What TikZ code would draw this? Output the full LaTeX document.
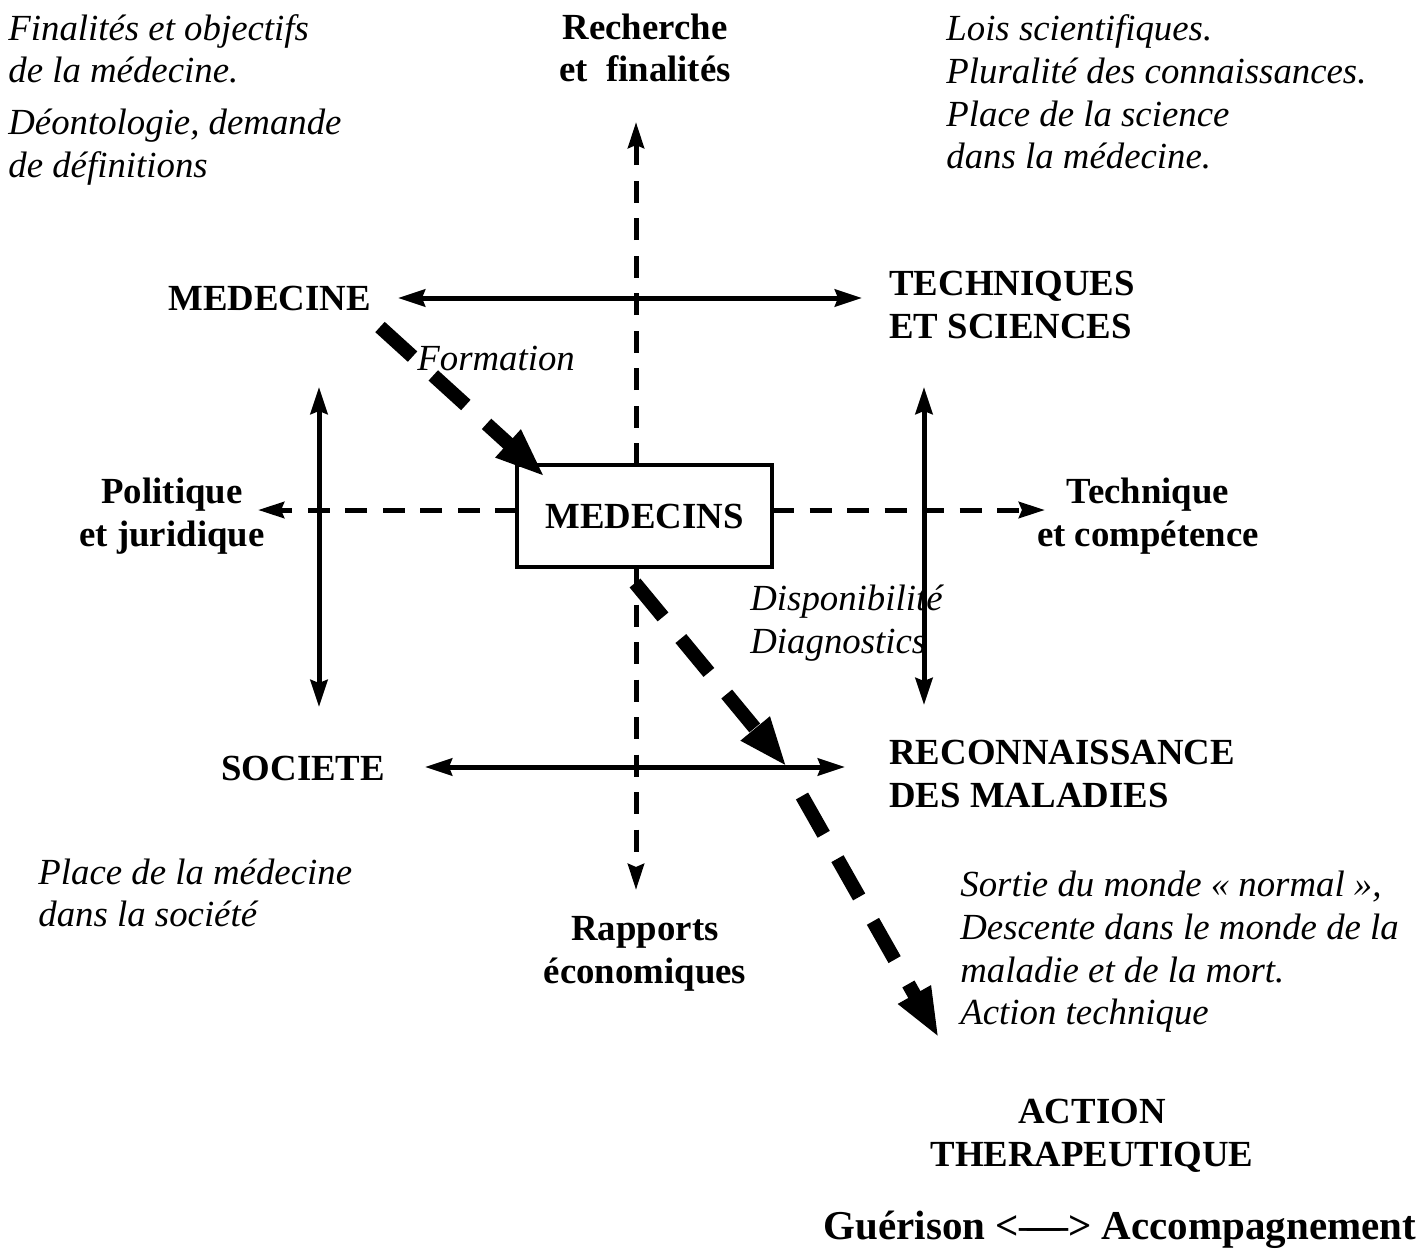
\documentclass[tikz,border=0pt]{standalone}
\usepackage{fontspec}
\setmainfont{Liberation Serif}
\usetikzlibrary{arrows.meta}
\begin{document}
\begin{tikzpicture}[x=0.5pt,y=-0.5pt,
  every node/.style={inner sep=0pt},
  bl/.style={font=\fontsize{18.4pt}{21.3pt}\selectfont\bfseries, align=center},
  blw/.style={font=\fontsize{18.4pt}{21.3pt}\selectfont\bfseries, align=left, anchor=west},
  it/.style={font=\fontsize{18.4pt}{21.3pt}\selectfont\itshape, align=left, anchor=west},
  solidarrow/.style={line width=2.5pt, {Stealth[length=13.5pt,width=8.5pt,inset=1.5pt]}-{Stealth[length=13.5pt,width=8.5pt,inset=1.5pt]}},
  dasharrow/.style={line width=2.5pt, dash pattern=on 11pt off 7.75pt, -{Stealth[length=13pt,width=8pt,inset=1.5pt]}},
  bigdash/.style={line width=7pt, dash pattern=on 22pt off 14pt, -{Triangle[length=25pt,width=17pt]}}
]
\useasboundingbox (0,0) rectangle (1426,1254);

% texts
\node[it] (fin) at (8,49) {Finalités et objectifs\\de la médecine.};
\node[it] (deon) at (8,147) {Déontologie, demande\\de définitions};
\node[bl] (rech) at (645,48) {Recherche\\et\ \ finalités};
\node[it] (lois) at (946,92) {Lois scientifiques.\\Pluralité des connaissances.\\Place de la science\\dans la médecine.};
\node[blw] (medecine) at (168,298) {MEDECINE};
\node[blw] (tech) at (889,305) {TECHNIQUES\\ET SCIENCES};
\node[it] (form) at (417,358) {Formation};
\node[draw, line width=1.6pt, fill=white, minimum width=127.5pt, minimum height=51pt, bl] (medecins) at (644.5,516) {MEDECINS};
\node[bl] (pol) at (172,516) {Politique\\et juridique};
\node[bl] (techc) at (1148,516) {Technique\\et compétence};
\node[it] (dispo) at (750,623) {Disponibilité\\Diagnostics};
\node[blw] (soc) at (221,768) {SOCIETE};
\node[blw] (reco) at (889,774) {RECONNAISSANCE\\DES MALADIES};
\node[it] (place) at (38,893) {Place de la médecine\\dans la société};
\node[bl] (rapp) at (645,954) {Rapports\\économiques};
\node[it] (sortie) at (960,952) {Sortie du monde « normal »,\\Descente dans le monde de la\\maladie et de la mort.\\Action technique};
\node[bl] (action) at (1092,1136) {ACTION\\THERAPEUTIQUE};
\node[font=\fontsize{20.5pt}{24pt}\selectfont\bfseries] (guer) at (1120,1230) {Guérison <—\kern-0.8em—> Accompagnement};

% coordinates
\coordinate (h1a) at (398,298);
\coordinate (h1b) at (862,298);
\coordinate (h2a) at (425,767);
\coordinate (h2b) at (845,767);
\coordinate (v1a) at (319,387);
\coordinate (v1b) at (319,707);
\coordinate (v2a) at (924,387);
\coordinate (v2b) at (924,705);
\coordinate (vtop) at (636,122);
\coordinate (vtopb) at (636,465);
\coordinate (vbot) at (636,890);
\coordinate (vbotb) at (636,567);
\coordinate (hl) at (258,510);
\coordinate (hlb) at (517,510);
\coordinate (hr) at (1045,510);
\coordinate (hrb) at (772,510);
\coordinate (d1a) at (380,327);
\coordinate (d1b) at (545,477);
\coordinate (d2a) at (635,583);
\coordinate (d2b) at (787,767);
\coordinate (d3a) at (802,796);
\coordinate (d3b) at (939,1038);

% connectors
\draw[solidarrow] (h1a) -- (h1b);
\draw[solidarrow] (h2a) -- (h2b);
\draw[solidarrow] (v1a) -- (v1b);
\draw[solidarrow] (v2a) -- (v2b);
\draw[dasharrow] (vtopb) -- (vtop);
\draw[dasharrow] (vbotb) -- (vbot);
\draw[dasharrow] (hlb) -- (hl);
\draw[dasharrow] (hrb) -- (hr);
\draw[bigdash] (d1a) -- (d1b);
\draw[bigdash] (d2a) -- (d2b);
\draw[bigdash] (d3a) -- (d3b);
\end{tikzpicture}
\end{document}
